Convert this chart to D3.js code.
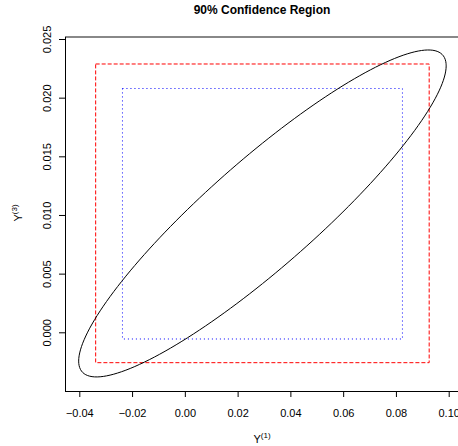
<!DOCTYPE html>
<html>
<head>
<meta charset="utf-8">
<script src="https://cdn.jsdelivr.net/npm/d3@7"></script>
<style>
  body { margin: 0; background: #fff; }
  svg { display: block; font-family: "Liberation Sans", Arial, sans-serif; }
</style>
</head>
<body>
<div id="chart"></div>
<script>
// tick values
const xTicks = [-0.04, -0.02, 0.00, 0.02, 0.04, 0.06, 0.08, 0.10];
const xTickLabels = ['\u22120.04', '\u22120.02', '0.00', '0.02', '0.04', '0.06', '0.08', '0.10'];
const yTicks = [0.000, 0.005, 0.010, 0.015, 0.020, 0.025];
const yTickLabels = ['0.000', '0.005', '0.010', '0.015', '0.020', '0.025'];

// confidence ellipse: centre, spread along each axis, correlation
const ellipseCenter = [0.0294, 0.01013];
const ellipseSpread = [0.06964, 0.013935];
const ellipseCorr = 0.903;

// simultaneous intervals [lo, hi] for Y1 and Y3
const redBoxX = [-0.0338, 0.0926];
const redBoxY = [-0.00259, 0.02287];
const blueBoxX = [-0.02364, 0.08247];
const blueBoxY = [-0.00057, 0.02078];

const width = 458, height = 446;

const svg = d3.select('#chart').append('svg')
    .attr('width', width)
    .attr('height', height);

const x = d3.scaleLinear().domain([-0.04, 0.10]).range([79.3, 448.7]);
const y = d3.scaleLinear().domain([0, 0.025]).range([332.3, 39]);

// frame
const frame = { left: 65, top: 37, bottom: 391, right: 462 };
svg.append('line')
    .attr('x1', frame.left).attr('x2', frame.right)
    .attr('y1', frame.top).attr('y2', frame.top)
    .attr('stroke', '#888').attr('stroke-width', 2);
svg.append('line')
    .attr('x1', frame.left).attr('x2', frame.right)
    .attr('y1', frame.bottom + 0.5).attr('y2', frame.bottom + 0.5)
    .attr('stroke', '#000');
svg.append('line')
    .attr('x1', frame.left + 0.5).attr('x2', frame.left + 0.5)
    .attr('y1', frame.top).attr('y2', frame.bottom)
    .attr('stroke', '#000');

// x axis
const xAxis = d3.axisBottom(x)
    .tickValues(xTicks)
    .tickSize(6)
    .tickPadding(12)
    .tickFormat((d, i) => xTickLabels[i]);
const gx = svg.append('g')
    .attr('transform', `translate(0,${frame.bottom})`)
    .call(xAxis);
gx.select('.domain').remove();
gx.selectAll('text').attr('font-size', 11).attr('fill', '#000')
    .attr('font-family', '"Liberation Sans", Arial, sans-serif');

// y axis (labels parallel to the axis)
const yAxis = d3.axisLeft(y)
    .tickValues(yTicks)
    .tickSize(6)
    .tickFormat((d, i) => yTickLabels[i]);
const gy = svg.append('g')
    .attr('transform', `translate(${frame.left},0)`)
    .call(yAxis);
gy.select('.domain').remove();
gy.selectAll('text')
    .attr('font-size', 11).attr('fill', '#000')
    .attr('font-family', '"Liberation Sans", Arial, sans-serif')
    .attr('x', 0).attr('dy', 0)
    .attr('text-anchor', 'middle')
    .attr('transform', 'translate(-14,0) rotate(-90)');

// rectangles
function box(bx, by, color, dash) {
    svg.append('rect')
        .attr('x', x(bx[0]))
        .attr('y', y(by[1]))
        .attr('width', x(bx[1]) - x(bx[0]))
        .attr('height', y(by[0]) - y(by[1]))
        .attr('fill', 'none')
        .attr('stroke', color)
        .attr('stroke-dasharray', dash);
}
box(redBoxX, redBoxY, '#ff0000', '4,2');
box(blueBoxX, blueBoxY, '#0000ff', '1,3');

// ellipse
const angles = d3.range(0, 361, 2).map(a => a * Math.PI / 180);
const s = Math.sqrt(1 - ellipseCorr * ellipseCorr);
const pts = angles.map(t => [
    ellipseCenter[0] + ellipseSpread[0] * Math.cos(t),
    ellipseCenter[1] + ellipseSpread[1] * (ellipseCorr * Math.cos(t) + s * Math.sin(t))
]);
svg.append('path')
    .datum(pts)
    .attr('d', d3.line().x(d => x(d[0])).y(d => y(d[1])).curve(d3.curveCardinalClosed))
    .attr('fill', 'none')
    .attr('stroke', '#000')
    .attr('stroke-width', 1);

// title
svg.append('text')
    .attr('x', 262).attr('y', 14)
    .attr('text-anchor', 'middle')
    .attr('font-size', 12)
    .attr('font-weight', 'bold')
    .text('90% Confidence Region');

// x title
const xt = svg.append('text')
    .attr('x', 262).attr('y', 443)
    .attr('text-anchor', 'middle')
    .attr('font-size', 11);
xt.append('tspan').text('Y');
xt.append('tspan').attr('dy', -5).attr('font-size', 8).text('(1)');

// y title
const yt = svg.append('text')
    .attr('transform', 'translate(22,213) rotate(-90)')
    .attr('text-anchor', 'middle')
    .attr('font-size', 11);
yt.append('tspan').text('Y');
yt.append('tspan').attr('dy', -5).attr('font-size', 8).text('(3)');
</script>
</body>
</html>
